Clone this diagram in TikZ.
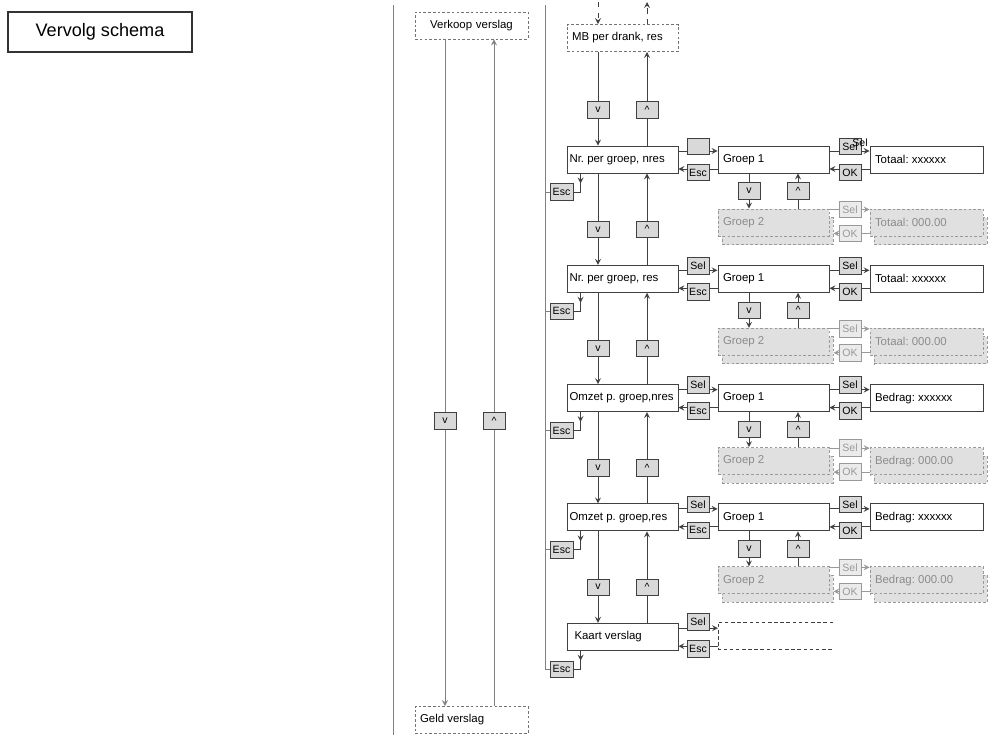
\documentclass[tikz,border=0pt]{standalone}
\usepackage{fontspec}
\setmainfont{Liberation Sans}
\usetikzlibrary{arrows.meta, positioning, calc, shadows}

\begin{document}
\begin{tikzpicture}[x=0.02cm, y=-0.02cm, >=stealth, line width=0.5pt,
  every node/.style={font=\fontsize{6.5}{8}\selectfont\frenchspacing},
  menu/.style={draw=black!75, fill=white, minimum height=0.54cm, text width=2.12cm, align=flush left, inner xsep=0.05cm},
  rechts/.style={text width=2.02cm, inner xsep=0.1cm},
  menuvak/.style={menu, draw=black!55, dash pattern=on 1.5pt off 1.2pt},
  grijs/.style={menu, draw=black!40, fill=black!12, text=black!45, dash pattern=on 1.5pt off 1.2pt},
  knop/.style={draw=black!75, fill=black!15, minimum width=0.44cm, minimum height=0.33cm, inner sep=0pt, font=\fontsize{6}{7}\selectfont},
  grijsknop/.style={knop, draw=black!40, fill=black!8, text=black!40},
  lijn/.style={draw=black!75},
  hulplijn/.style={draw=black!50}]
  \useasboundingbox (0,0) rectangle (993,737);

  \node[draw=black!80, line width=0.8pt, minimum width=3.68cm, minimum height=0.8cm, font=\fontsize{10.3}{12}\selectfont] (vervolg) at (100,32) {Vervolg schema};

  \coordinate (lt) at (393,5);
  \coordinate (lb) at (393,735);
  \coordinate (rt) at (545,5);
  \draw[hulplijn] (lt) -- (lb);

  \node[menuvak, text width=2.16cm, align=center] (verkoop) at (471.5,25.5) {Verkoop verslag};
  \node[menuvak, rechts, text width=2.06cm] (geld) at (471.5,720) {Geld verslag};
  \node[knop] (vl) at (445,421) {v};
  \node[knop] (ul) at (494,421) {\textasciicircum};
  \draw[hulplijn] (verkoop.south -| vl) -- (vl);
  \draw[hulplijn, ->] (vl) -- (geld.north -| vl);
  \draw[hulplijn] (geld.north -| ul) -- (ul);
  \draw[hulplijn, ->] (ul) -- (verkoop.south -| ul);

  \node[menuvak, inner xsep=0.1cm, text width=2.02cm] (m0) at (622.5,38) {MB per drank, res};
  \coordinate (mbin) at (598,2);
  \coordinate (mbuit) at (647,2);
  \draw[lijn, dashed, ->] (mbin) -- (mbin |- m0.north);
  \draw[lijn, dashed, ->] (m0.north -| mbuit) -- (mbuit);

  \foreach \i/\naam in {1/{Nr. per groep, nres}, 2/{Nr. per groep, res}, 3/{Omzet p. groep,nres}, 4/{Omzet p. groep,res}, 5/{\hspace{0.1cm}Kaart verslag}}{
    \pgfmathsetmacro\rij{146+(\i-1)*119.3}
    \pgfmathtruncatemacro\j{\i-1}
    \node[menu] (m\i) at (622.5,\rij+13.5) {\naam};
    \node[knop] (v\i) at (598,\rij-36) {v};
    \node[knop] (u\i) at (647,\rij-36) {\textasciicircum};
    \draw[lijn] (m\j.south -| v\i) -- (v\i);
    \draw[lijn, ->] (v\i) -- (m\i.north -| v\i);
    \draw[lijn] (m\i.north -| u\i) -- (u\i);
    \draw[lijn, ->] (u\i) -- (m\j.south -| u\i);
    \node[knop, minimum width=0.46cm] (e\i) at (561.5,\rij+46) {Esc};
    \draw[lijn, ->] ([xshift=0.28cm]m\i.south west) -- ++(0,10);
    \draw[lijn] ([xshift=0.28cm]m\i.south west) |- (e\i);
  }
  \foreach \i in {1,...,4}{
    \draw[hulplijn] (e\i) -- (e\i -| rt);
  }
  \draw[hulplijn] (rt) |- (e5);

  \foreach \i/\sel/\totaal/\nul in {1/{}/{Totaal: xxxxxx}/{Totaal: 000.00}, 2/Sel/{Totaal: xxxxxx}/{Totaal: 000.00}, 3/Sel/{Bedrag: xxxxxx}/{Bedrag: 000.00}, 4/Sel/{Bedrag: xxxxxx}/{Bedrag: 000.00}}{
    \pgfmathsetmacro\rij{146+(\i-1)*119.3}
    \node[menu, rechts] (g\i) at (773.5,\rij+13.5) {Groep 1};
    \node[menu, rechts, text width=2.06cm] (w\i) at (926.5,\rij+13.5) {\totaal};
    \node[knop] (ls\i) at (698,\rij+0.5) {\sel};
    \node[knop] (le\i) at (698,\rij+26.5) {Esc};
    \node[knop] (rs\i) at (850,\rij+0.5) {Sel};
    \node[knop] (ro\i) at (850,\rij+26.5) {OK};
    \coordinate (a\i) at ([yshift=0.17cm]m\i.east);
    \coordinate (b\i) at ([yshift=-0.19cm]m\i.east);
    \coordinate (c\i) at ([yshift=0.17cm]g\i.east);
    \coordinate (d\i) at ([yshift=-0.19cm]g\i.east);
    \draw[lijn] (a\i) -- (a\i -| ls\i.west);
    \draw[lijn, ->] (a\i -| ls\i.east) -- (a\i -| g\i.west);
    \draw[lijn] (b\i -| g\i.west) -- (b\i -| le\i.east);
    \draw[lijn, ->] (b\i -| le\i.west) -- (b\i);
    \draw[lijn] (c\i) -- (c\i -| rs\i.west);
    \draw[lijn, ->] (c\i -| rs\i.east) -- (c\i -| w\i.west);
    \draw[lijn] (d\i -| w\i.west) -- (d\i -| ro\i.east);
    \draw[lijn, ->] (d\i -| ro\i.west) -- (d\i);
    \node[grijs, rechts] (hs\i) at (777.5,\rij+85) {};
    \node[grijs, rechts] (h\i) at (773.5,\rij+76.5) {Groep 2};
    \node[grijs, rechts, text width=2.06cm] (ns\i) at (930.5,\rij+85) {};
    \node[grijs, rechts, text width=2.06cm] (n\i) at (926.5,\rij+76.5) {\nul};
    \node[grijsknop] (gs\i) at (850,\rij+63.5) {Sel};
    \node[grijsknop] (go\i) at (850,\rij+87.5) {OK};
    \draw[black!40] (h\i.east |- gs\i) -- (gs\i);
    \draw[black!40, ->] (gs\i) -- (n\i.west |- gs\i);
    \draw[black!40] (n\i.west |- go\i) -- (go\i);
    \draw[black!40, ->] (go\i) -- (hs\i.east |- go\i);
    \node[knop] (gv\i) at (749,\rij+45) {v};
    \node[knop] (gu\i) at (798,\rij+45) {\textasciicircum};
    \draw[lijn] (g\i.south -| gv\i) -- (gv\i);
    \draw[lijn, ->] (gv\i) -- (h\i.north -| gv\i);
    \draw[lijn] (h\i.north -| gu\i) -- (gu\i);
    \draw[lijn, ->] (gu\i) -- (g\i.south -| gu\i);
  }
  \node[inner sep=0pt, font=\fontsize{6}{7}\selectfont] (selsel) at (860,143) {Sel};

  \node[knop] (ls5) at (698,622) {Sel};
  \node[knop] (le5) at (698,649) {Esc};
  \coordinate (kt) at (718,622);
  \coordinate (kb) at (718,649);
  \coordinate (ktr) at (833,622);
  \coordinate (kbr) at (833,649);
  \coordinate (a5) at ([yshift=0.17cm]m5.east);
  \coordinate (b5) at ([yshift=-0.19cm]m5.east);
  \draw[lijn] (a5) -- (a5 -| ls5.west);
  \draw[lijn, ->] (a5 -| ls5.east) -- (a5 -| kt);
  \draw[lijn, dash pattern=on 2pt off 1.5pt] (ktr) -- (kt) -- (kb) -- (kbr);
  \draw[lijn] (b5 -| kt) -- (b5 -| le5.east);
  \draw[lijn, ->] (b5 -| le5.west) -- (b5);
\end{tikzpicture}
\end{document}
